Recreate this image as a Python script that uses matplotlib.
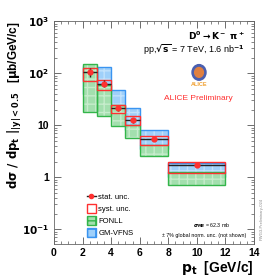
import numpy as np
import matplotlib
matplotlib.use('Agg')
import matplotlib.pyplot as plt
from matplotlib.patches import Patch, Circle
from matplotlib.lines import Line2D

# pt bins
bin_lo = [2, 3, 4, 5, 6, 8]
bin_hi = [3, 4, 5, 6, 8, 12]

# measured cross section (ub/GeV/c)
xsec = [105, 63, 21, 12.5, 5.5, 1.75]
stat_lo = [84, 54, 18.5, 11.0, 5.1, 1.6]
stat_hi = [125, 73, 23.5, 14.0, 5.9, 1.9]
syst_lo = [70, 48, 16.8, 10.0, 4.2, 1.2]
syst_hi = [125, 75, 25, 14.9, 6.2, 2.0]

# theory bands
fonll_lo = [18.3, 14.8, 9.6, 5.6, 2.57, 0.71]
fonll_hi = [148, 60, 25, 10, 4.17, 1.27]
gmvfns_lo = [40, 40, 18, 8, 3.5, 1.0]
gmvfns_hi = [140, 134, 48, 21, 8.2, 1.92]

plt.rcParams['font.family'] = 'Liberation Sans'
plt.rcParams['font.weight'] = 'bold'

fig = plt.figure(figsize=(2.66, 2.78), dpi=100)
ax = fig.add_axes([0.203, 0.122, 0.752, 0.802])

lo = np.array(bin_lo, float)
w = np.array(bin_hi, float) - lo
ctr = lo + w / 2

green_fill = '#a3dfae'
green_edge = '#33b54a'
blue_fill = '#9fd0fa'
blue_edge = '#3a94f0'
red = '#ff3030'

# GM-VFNS below, FONLL on top
gb = np.array(gmvfns_lo); gt = np.array(gmvfns_hi)
ax.bar(lo, gt - gb, w, bottom=gb, align='edge', color=blue_fill, lw=0, zorder=1)
ax.bar(lo, gt - gb, w, bottom=gb, align='edge', facecolor='none',
       edgecolor='#c2e2fc', hatch='++', lw=0, zorder=1.1)
ax.bar(lo, gt - gb, w, bottom=gb, align='edge', facecolor='none',
       edgecolor=blue_edge, lw=1.0, zorder=1.2)

fb = np.array(fonll_lo); ft = np.array(fonll_hi)
ax.bar(lo, ft - fb, w, bottom=fb, align='edge', color=green_fill, lw=0, zorder=2)
ax.bar(lo, ft - fb, w, bottom=fb, align='edge', facecolor='none',
       edgecolor='#c6eccc', hatch='++', lw=0, zorder=2.1)
ax.bar(lo, ft - fb, w, bottom=fb, align='edge', facecolor='none',
       edgecolor=green_edge, lw=1.0, zorder=2.2)

# systematic boxes
sb = np.array(syst_lo); st = np.array(syst_hi)
ax.bar(lo, st - sb, w, bottom=sb, align='edge', facecolor='none',
       edgecolor=red, lw=1.0, zorder=3)

# data with stat errors
y = np.array(xsec)
ax.errorbar(ctr, y, xerr=w / 2,
            yerr=[y - np.array(stat_lo), np.array(stat_hi) - y],
            fmt='none', ecolor='#222222', elinewidth=1.0, capsize=0, zorder=4)
ax.plot(ctr, y, 'o', color=red, ms=3.5, zorder=5)

ax.set_yscale('log')
ax.set_xlim(0, 14)
ax.set_ylim(0.052, 1000)
ax.set_xticks(range(0, 15, 2))
ax.set_yticks([0.1, 1, 10, 100, 1000])
ax.set_yticklabels(['$\\mathbf{10^{-1}}$', '1', '10', '$\\mathbf{10^{2}}$', '$\\mathbf{10^{3}}$'])
ax.xaxis.set_minor_locator(matplotlib.ticker.MultipleLocator(0.5))
ax.tick_params(which='both', direction='in', top=True, right=True, labelsize=7.5,
               color='#555555')
ax.tick_params(which='major', length=5, width=0.6)
ax.tick_params(which='minor', length=2.5, width=0.5)
ax.tick_params(axis='x', pad=3)
for s in ax.spines.values():
    s.set_color('#666666')
    s.set_linewidth(0.6)

fig.text(0.955, 0.003, '$\\mathbf{p_t}$  [GeV/c]', ha='right', va='bottom', fontsize=10)
fig.text(0.055, 0.924,
         '$\\mathbf{d\\sigma\\ /\\ dp_t\\ |_{|y|<0.5}}$   [$\\mathbf{\\mu}$b/GeV/c]',
         rotation=90, ha='center', va='top', fontsize=8.5)

ax.text(0.81, 0.935, '$\\mathrm{D^0 \\rightarrow K^-\\ \\pi^+}$', transform=ax.transAxes,
        ha='center', va='center', fontsize=6.5, fontweight='normal')
ax.text(0.70, 0.87, 'pp,$\\mathrm{\\sqrt{s}}$ = 7 TeV, 1.6 nb$^{-1}$', transform=ax.transAxes,
        ha='center', va='center', fontsize=6.5, fontweight='normal')

# small logo
ax.add_patch(Circle((0.725, 0.77), 0.035, transform=ax.transAxes, color='#4a5fb0', zorder=6))
ax.add_patch(Circle((0.725, 0.77), 0.022, transform=ax.transAxes, color='#e08040', zorder=7))
ax.text(0.725, 0.715, 'ALICE', transform=ax.transAxes, ha='center', va='center',
        fontsize=4, color='#f0a030')
ax.text(0.72, 0.655, 'ALICE Preliminary', transform=ax.transAxes, ha='center', va='center',
        fontsize=6, color=red, fontweight='normal')

ax.text(0.79, 0.085, '$\\sigma_{MB}$ = 62.3 mb', transform=ax.transAxes, ha='center',
        va='center', fontsize=3.8, fontweight='normal')
ax.text(0.75, 0.04, '± 7% global norm. unc. (not shown)', transform=ax.transAxes,
        ha='center', va='center', fontsize=3.8, fontweight='normal')
fig.text(0.985, 0.135, 'PWG3-Preliminary-024', rotation=90, ha='center', va='bottom',
         fontsize=3, color='#888888', fontweight='normal')

handles = [
    Line2D([], [], color='#222222', marker='o', mfc=red, mec=red, ms=3, lw=1),
    Patch(facecolor='white', edgecolor=red, lw=1),
    Patch(facecolor=green_fill, edgecolor=green_edge, hatch='++', lw=1),
    Patch(facecolor=blue_fill, edgecolor=blue_edge, hatch='++', lw=1),
]
labels = ['stat. unc.', 'syst. unc.', 'FONLL', 'GM-VFNS']
leg = ax.legend(handles, labels, loc='lower left', bbox_to_anchor=(0.13, 0.0),
                frameon=False, handlelength=1.2, handleheight=1.5,
                handletextpad=0.3, labelspacing=0.35, prop={'weight': 'normal', 'size': 5.5})

fig.savefig('out.png', dpi=100)
